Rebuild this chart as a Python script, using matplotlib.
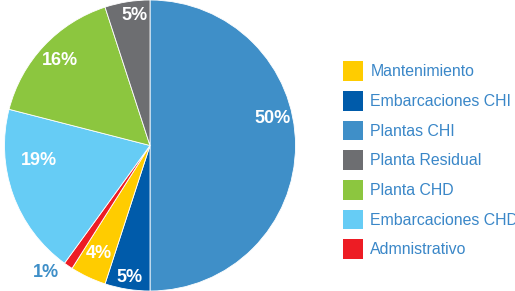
import matplotlib
matplotlib.use("Agg")
import matplotlib.pyplot as plt
from matplotlib.patches import Patch
import numpy as np

# pie order, clockwise from 12 o'clock
labels = ["Plantas CHI", "Embarcaciones CHI", "Mantenimiento", "Admnistrativo",
          "Embarcaciones CHD", "Planta CHD", "Planta Residual"]
values = [50, 5, 4, 1, 19, 16, 5]
colors = ["#3F8FC8", "#005BAA", "#FFCC00", "#ED1C24", "#66CCF5", "#8CC63F", "#6D6E71"]

legend_order = ["Mantenimiento", "Embarcaciones CHI", "Plantas CHI", "Planta Residual",
                "Planta CHD", "Embarcaciones CHD", "Admnistrativo"]

# label placement tweaks (radius, angle offset in degrees)
lab_r = [0.86, 0.92, 0.82, 1.13, 0.77, 0.85, 0.90]
lab_off = [12.5, 0, 0, -5, -12, 0, -2]

plt.rcParams['font.family'] = ['Liberation Sans', 'DejaVu Sans']

fig = plt.figure(figsize=(5.15, 2.91), dpi=100)
ax = fig.add_axes([4/515, 0, 292/515, 1])
wedges, _ = ax.pie(values, colors=colors, startangle=90, counterclock=False,
                   radius=1, wedgeprops=dict(edgecolor="white", linewidth=0.6))
ax.set_xlim(-1, 1)
ax.set_ylim(-1, 1)
ax.set_aspect("equal")
ax.axis("off")

for i, w in enumerate(wedges):
    mid = np.deg2rad((w.theta1 + w.theta2) / 2 + lab_off[i])
    x = lab_r[i] * np.cos(mid)
    y = lab_r[i] * np.sin(mid)
    col = "white" if lab_r[i] < 1 else "#3F8FC8"
    ax.text(x, y, f"{values[i]}%", ha="center", va="center", color=col,
            fontsize=13, fontweight="bold")

handles = [Patch(facecolor=colors[labels.index(n)], edgecolor="none") for n in legend_order]
leg = fig.legend(handles, legend_order, loc="upper left", bbox_to_anchor=(337/515, 1 - 55/291),
                 frameon=False, fontsize=11.4, handlelength=1.25, handleheight=1.55,
                 handletextpad=0.45, labelspacing=0.62, borderaxespad=0)
for t in leg.get_texts():
    t.set_color("#3A87C8")

fig.savefig("out.png", dpi=100)
